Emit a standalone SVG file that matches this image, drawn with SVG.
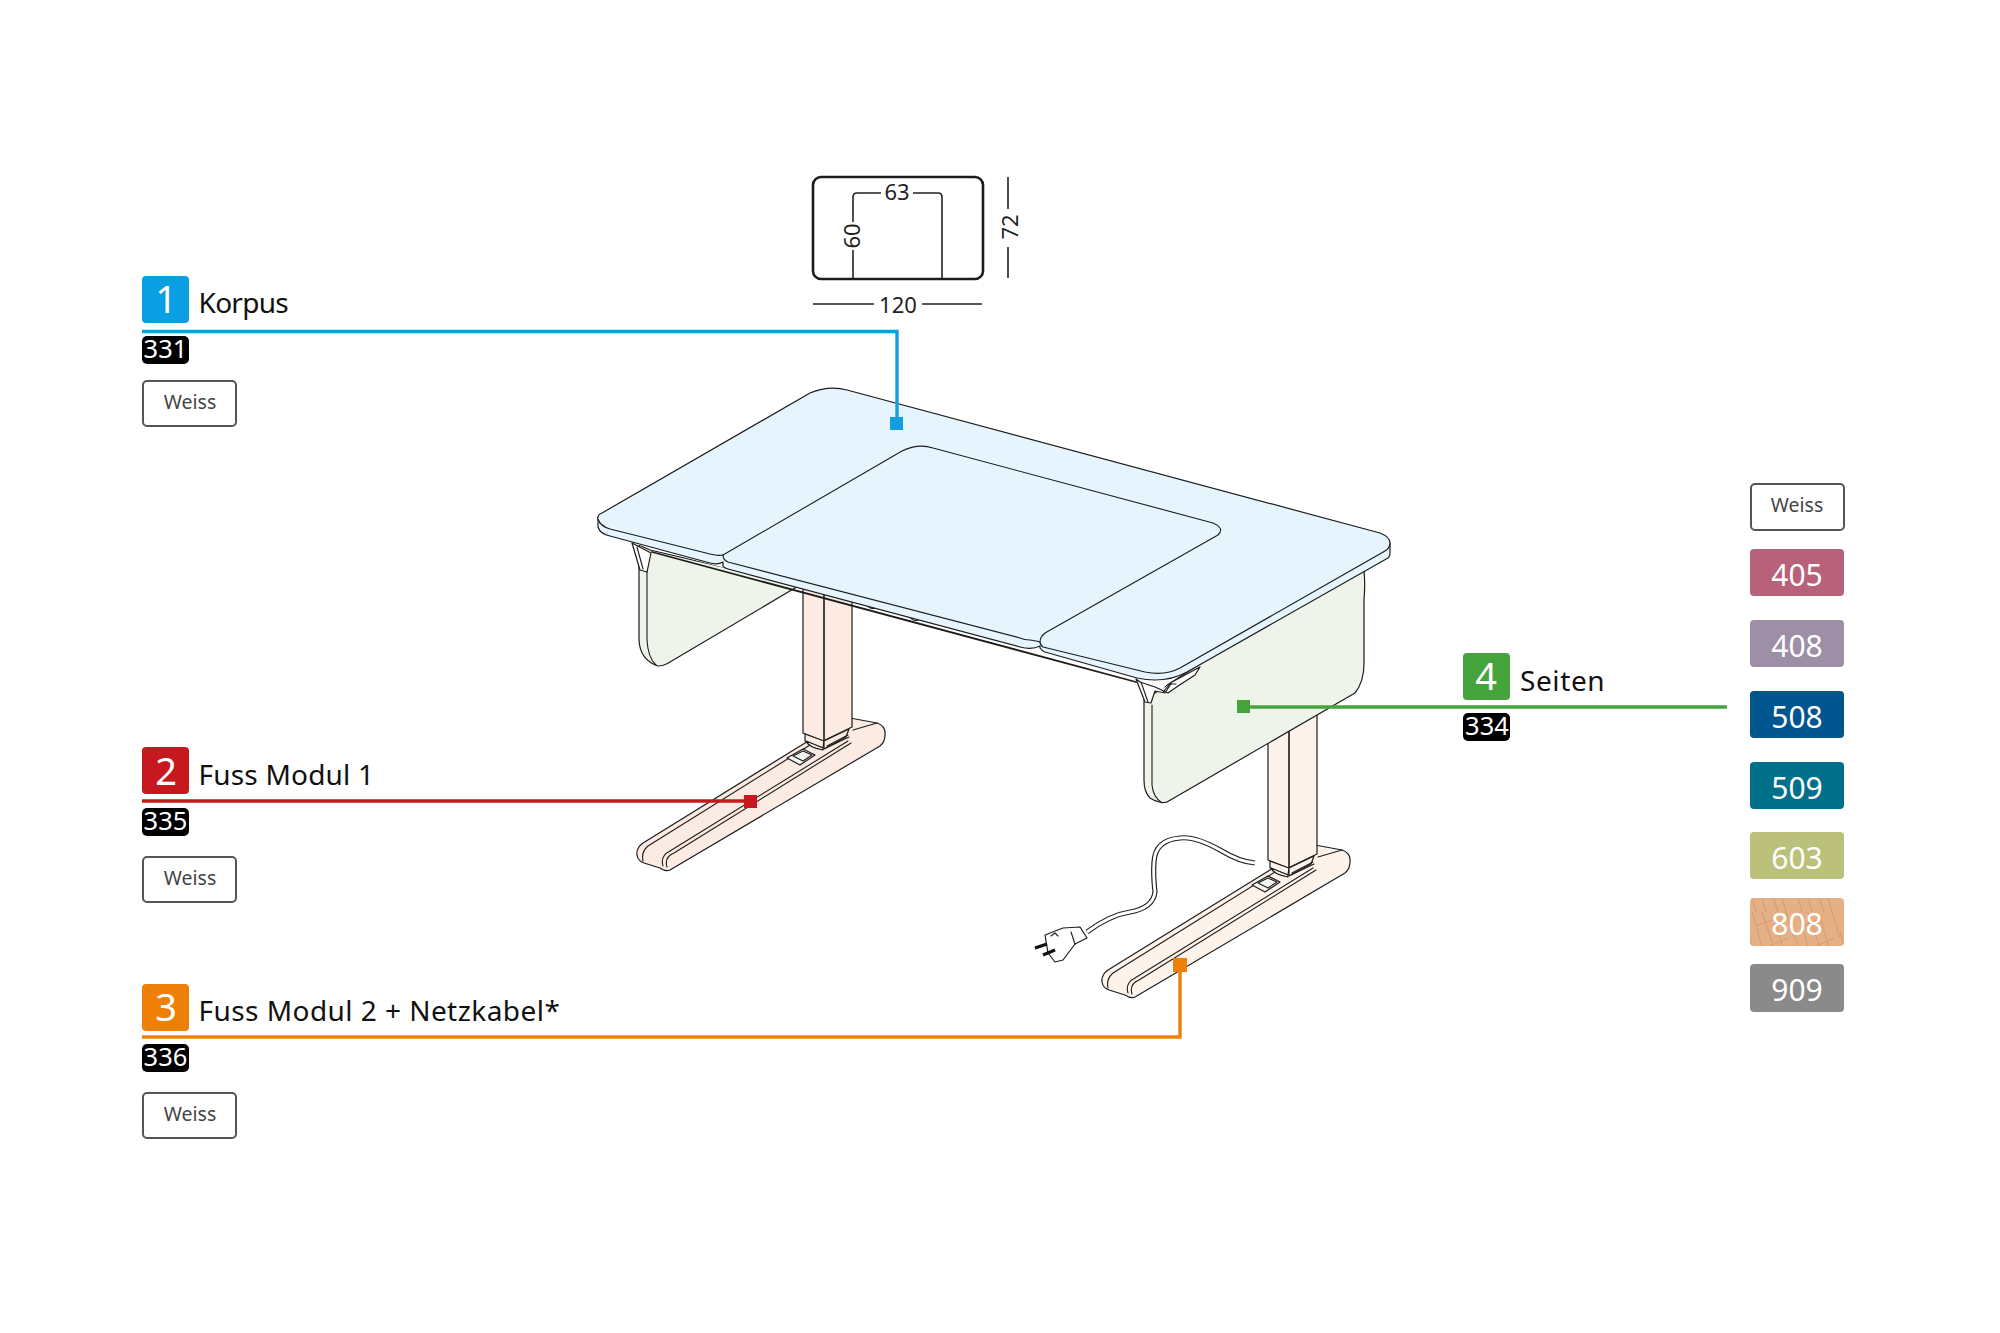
<svg xmlns="http://www.w3.org/2000/svg" xmlns:xlink="http://www.w3.org/1999/xlink" width="2000" height="1333" viewBox="0 0 2000 1333">
<style>
text{font-family:"Noto Sans","Open Sans","Liberation Sans",sans-serif}
.num{font-size:38px;fill:#fff;text-anchor:middle}
.title{font-size:28px;fill:#111}
.code{font-size:25.500px;fill:#fff;text-anchor:middle}
.chip{fill:#000}
.w{fill:#fff;stroke:#555;stroke-width:2}
.wt{font-size:19.500px;fill:#444;text-anchor:middle}
.sw{font-size:30px;fill:#fff;text-anchor:middle}
.dim{font-size:22px;fill:#222;text-anchor:middle}
.dl{fill:none;stroke:#222;stroke-width:1.6}
.o{stroke:#1c1c1c;stroke-width:1.2;stroke-linejoin:round}
.l{fill:none;stroke:#1c1c1c;stroke-width:1.1;stroke-linecap:round;stroke-linejoin:round}
.top{fill:#e6f5fd}
.side{fill:#eff4ea}
.c{fill:none;stroke-width:3.4}
</style>
<defs>
<pattern id="wood" width="46" height="48" patternUnits="userSpaceOnUse">
<path d="M4 0L18 48M14 0L30 48M26 4L38 48M38 0L46 26M0 20L8 48M8 14L24 8M22 34L40 26" fill="none" stroke="#c98f62" stroke-width=".9" opacity=".7"/>
</pattern>
<g id="foot">
<path class="o" d="M637 855Q636 848 643 843L805 743L850 718L877 723Q886 726 885 735Q885 742 880 746L670 870Q666 872 660 868L644 863Q638 861 637 855Z"/>
<path class="l" d="M643 861Q641 852 648 846L810 745M663 866Q660 856 670 851L848 741M667 867Q664 857 674 853L851 743M853 730L877 723"/>
<path class="o" fill="#f4f4f0" d="M787 758L803 749L815 755L800 765Z"/>
<path class="l" fill="#fff" d="M793 756L803 751L812 755L803 761Z"/>
</g>
<g id="leg">
<path class="o" d="M803 585V733L823 741L852 727V585Z"/>
<path d="M824 585V741" fill="none" stroke="#444" stroke-width="2"/>
<path class="o" d="M805 734V741L823 748L824 741Z"/>
<path class="o" d="M824 741V749L846 737L849 729Z"/>
<path class="o" fill="#fff" d="M806 741Q808 747 823 750L823 748Z"/>
<path class="l" d="M827 746L848 735M826 748L849 737"/>
</g>
</defs>

<g id="dimensions">
<rect x="813" y="177" width="170" height="102" rx="8" fill="#fff" stroke="#1c1c1c" stroke-width="2.600"/>
<path class="dl" d="M853 279V250M853 222V197Q853 193 857 193H881M913 193H938Q942 193 942 197V279M1008 177V209M1008 247V278M813 304H874M922 304H982"/>
<text class="dim" x="897" y="200">63</text>
<text class="dim" transform="translate(860 236) rotate(-90)" x="0" y="0">60</text>
<text class="dim" transform="translate(1018 227) rotate(-90)" x="0" y="0">72</text>
<text class="dim" x="898" y="313">120</text>
</g>

<g id="desk">
<path class="o side" id="panel-left" d="M639 545V640Q640 660 658 666Q664 666 670 662L800 585L650 550Z"/>
<path class="l" d="M647 565V640Q648 658 656 665"/>
<use href="#foot" xlink:href="#foot" fill="#fbebe3"/>
<use href="#leg" xlink:href="#leg" fill="#fbebe3"/>
<use href="#foot" xlink:href="#foot" x="465" y="127" fill="#fdf3ea"/>
<use href="#leg" xlink:href="#leg" x="465" y="127" fill="#fdf3ea"/>
<path class="o side" id="panel-right" d="M1144 700L1362 560Q1366 575 1364 600V663Q1364 682 1355 693L1167 802Q1160 804 1150 798Q1144 792 1144 780Z"/>
<path class="l" d="M1152 705V785Q1153 797 1162 803"/>
<path id="frame" d="M632 543L1136 679L1162 690L1170 680L1137 660L640 535Z" fill="#fff"/>
<path class="l" style="stroke-width:1.800" d="M652 552L1136 682"/>
<path class="l" fill="#fff" d="M866 604Q870 610 875 608L879 604M909 616Q913 622 918 620L921 616"/>
<path id="bracket-left" class="o" fill="#fff" d="M632 543L640 570L647 572L651 553Z"/>
<path class="l" d="M637 547L643 569"/>
<path id="bracket-right" class="o" fill="#fff" d="M1136 679L1145 702L1151 703L1155 691L1165 693L1172 682L1200 667L1195 675L1178 686L1168 693L1155 687L1140 682Z"/>
<path class="l" d="M1141 682L1148 702M1163 692L1170 684L1176 684"/>
<path id="desktop-edge" class="o top" d="M598 517V527Q600 534 610 536L710 563Q718 565 723 562V566Q724 568 728 569L1020 647Q1032 650 1040 646V648Q1042 651 1045 652L1137 678Q1165 684 1187 672L1388 558Q1390 556 1390 554V543L1000 500Z"/>
<path id="desktop" class="o top" d="M598 519Q597 515 602 513L810 393Q829 385 847 390L1380 533Q1390 537 1390 543Q1390 548 1385 551L1180 668Q1165 676 1145 672L1043 647Q1040 645 1040 642Q1037 641 1030 640Q1024 640 1020 638L728 562Q723 560 723 555Q718 556 710 554L610 529Q600 526 598 519Z"/>
<path class="l" d="M1040 642Q1040 637 1045 633L1218 535Q1222 531 1220 528Q1218 525 1213 523L933 448Q918 443 902 451L723 555"/>
<path id="cable" d="M1255 863Q1240 862 1220 850Q1195 836 1180 838Q1155 840 1154 862Q1153 875 1155 892Q1153 908 1130 912Q1110 915 1087 932" fill="none" stroke="#222" stroke-width="5.200"/>
<path d="M1255 863Q1240 862 1220 850Q1195 836 1180 838Q1155 840 1154 862Q1153 875 1155 892Q1153 908 1130 912Q1110 915 1087 932" fill="none" stroke="#fff" stroke-width="2.800"/>
<path class="o" fill="#fff" d="M1045 935L1063 928L1080 927L1087 938L1075 944L1063 960L1055 962L1048 953Z"/>
<path class="l" d="M1051 936L1055 933L1058 936M1075 944L1071 932"/>
<path d="M1035 948L1047 944M1043 955L1055 950" stroke="#111" stroke-width="3.400" fill="none"/>
</g>

<g id="connectors">
<path class="c" stroke="#139fdf" d="M142 331.500H897V424"/>
<rect x="890" y="417" width="13" height="13" fill="#139fdf"/>
<path class="c" stroke="#c8181f" d="M142 801H750"/>
<rect x="744" y="795" width="13" height="13" fill="#c8181f"/>
<path class="c" stroke="#ee8008" d="M142 1037H1180V965"/>
<rect x="1173" y="958" width="14" height="14" fill="#ee8008"/>
<path class="c" stroke="#45a53c" d="M1243 707H1727"/>
<rect x="1237" y="700" width="13" height="13" fill="#45a53c"/>
</g>

<g id="node-1">
<rect x="142" y="276" width="47" height="47" rx="4" fill="#0a9fe2"/>
<text class="num" x="166" y="313">1</text>
<text class="title" x="198.500" y="313" style="letter-spacing:-.7px">Korpus</text>
<rect class="chip" x="142" y="336" width="47" height="28" rx="5"/>
<text class="code" x="165.500" y="358">331</text>
<rect class="w" x="143" y="381" width="93" height="45" rx="4"/>
<text class="wt" x="190" y="409">Weiss</text>
</g>
<g id="node-2">
<rect x="142" y="747" width="47" height="47" rx="4" fill="#c8181f"/>
<text class="num" x="166" y="785">2</text>
<text class="title" x="198.500" y="785" style="letter-spacing:.2px">Fuss Modul 1</text>
<rect class="chip" x="142" y="808" width="47" height="28" rx="5"/>
<text class="code" x="165.500" y="830">335</text>
<rect class="w" x="143" y="857" width="93" height="45" rx="4"/>
<text class="wt" x="190" y="885">Weiss</text>
</g>
<g id="node-3">
<rect x="142" y="984" width="47" height="47" rx="4" fill="#ee8008"/>
<text class="num" x="166" y="1021">3</text>
<text class="title" x="198.500" y="1021" style="letter-spacing:.45px">Fuss Modul 2 + Netzkabel*</text>
<rect class="chip" x="142" y="1044" width="47" height="28" rx="5"/>
<text class="code" x="165.500" y="1066">336</text>
<rect class="w" x="143" y="1093" width="93" height="45" rx="4"/>
<text class="wt" x="190" y="1121">Weiss</text>
</g>
<g id="node-4">
<rect x="1463" y="653" width="47" height="47" rx="4" fill="#45a53c"/>
<text class="num" x="1486" y="690">4</text>
<text class="title" x="1520" y="691" style="letter-spacing:.6px">Seiten</text>
<rect class="chip" x="1463" y="713" width="47" height="28" rx="5"/>
<text class="code" x="1487" y="735">334</text>
</g>

<g id="swatches">
<rect class="w" x="1751" y="484" width="93" height="46" rx="4"/>
<text class="wt" x="1797" y="512">Weiss</text>
<rect x="1750" y="549" width="94" height="47" rx="4" fill="#b9607a"/>
<text class="sw" x="1797" y="585.500">405</text>
<rect x="1750" y="620" width="94" height="47" rx="4" fill="#9d8fa6"/>
<text class="sw" x="1797" y="656.500">408</text>
<rect x="1750" y="691" width="94" height="47" rx="4" fill="#00558e"/>
<text class="sw" x="1797" y="727.500">508</text>
<rect x="1750" y="762" width="94" height="47" rx="4" fill="#006f8a"/>
<text class="sw" x="1797" y="798.500">509</text>
<rect x="1750" y="832" width="94" height="47" rx="4" fill="#bbc17b"/>
<text class="sw" x="1797" y="868.500">603</text>
<rect x="1750" y="898" width="94" height="48" rx="4" fill="#e6b086"/>
<rect x="1750" y="898" width="94" height="48" rx="4" fill="url(#wood)"/>
<text class="sw" x="1797" y="934.500">808</text>
<rect x="1750" y="964" width="94" height="48" rx="4" fill="#8a8a8a"/>
<text class="sw" x="1797" y="1000.500">909</text>
</g>
</svg>
